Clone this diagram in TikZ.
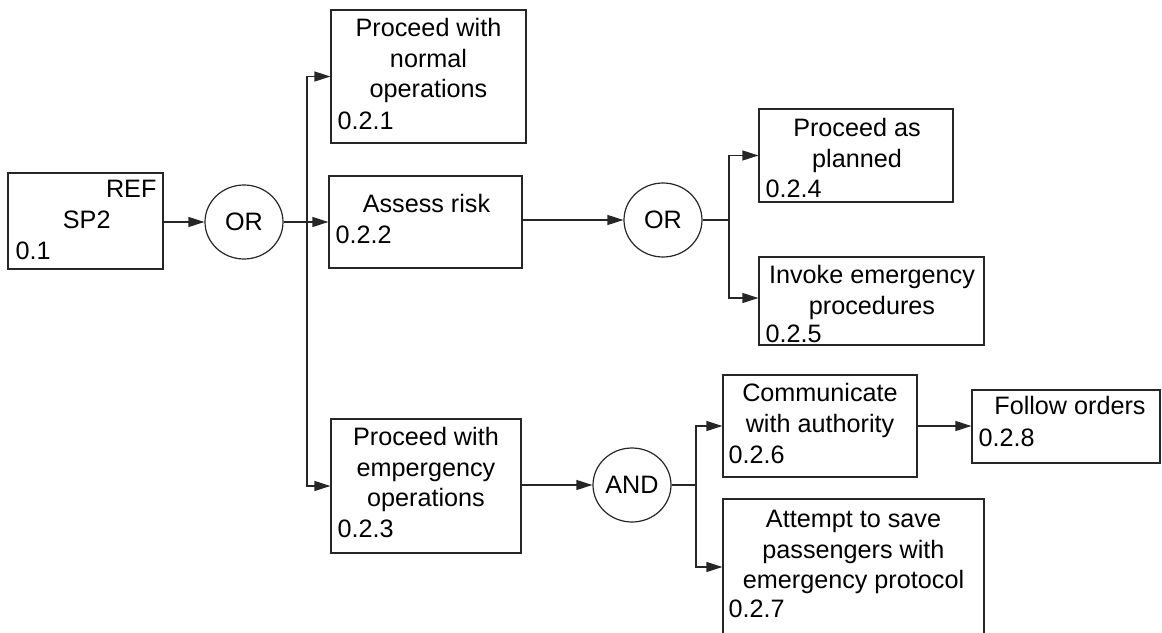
\documentclass[tikz,border=0pt]{standalone}
\usepackage{fontspec}
\setmainfont{Liberation Sans}
\usetikzlibrary{arrows.meta,shapes.geometric}
\newcommand\diagfont{\fontsize{25.2}{30.5}\selectfont}
\begin{document}
\begin{tikzpicture}[x=1pt,y=-1pt,line width=1.2pt,
  gbox/.style={draw=black!85, rectangle, inner sep=0pt},
  gate/.style={draw=black!85, ellipse, minimum width=78pt, minimum height=74pt, inner sep=0pt, font=\diagfont},
  gtext/.style={anchor=north, align=center, inner sep=0pt, font=\diagfont},
  gnum/.style={anchor=base west, inner sep=0pt, font=\diagfont},
  wire/.style={draw=black!85},
  arr/.style={wire, -{Triangle[length=16pt,width=10pt]}},
]
\useasboundingbox (0,0) rectangle (1162,632);
\clip (0,0) rectangle (1162,632);

% root box
\node[gbox, minimum width=155pt, minimum height=96pt] (b01) at (85.5,221) {};
\node[anchor=base east, inner sep=0pt, font=\diagfont] (t01a) at (157,197) {REF};
\node[anchor=base, inner sep=0pt, font=\diagfont] (t01b) at (86.7,228) {SP2};
\node[gnum] (n01) at (15,259) {0.1};

% first OR gate and its branches
\node[gate] (or1) at (244,222) {OR};
\coordinate (j1) at (307,222);

\node[gbox, minimum width=195pt, minimum height=133pt] (b21) at (428.5,76.5) {};
\node[gtext] (t21) at (428.5,14.65) {\strut Proceed with\\normal\\operations};
\node[gnum] (n21) at (337,129) {0.2.1};

\node[gbox, minimum width=193pt, minimum height=92pt] (b22) at (425.5,222) {};
\node[gtext] (t22) at (426.5,190.65) {\strut Assess risk};
\node[gnum] (n22) at (335,243) {0.2.2};

\node[gbox, minimum width=190pt, minimum height=134pt] (b23) at (426,486) {};
\node[gtext] (t23) at (426,423.65) {\strut Proceed with\\empergency\\operations};
\node[gnum] (n23) at (337,537) {0.2.3};

% second OR gate
\node[gate] (or2) at (663,220) {OR};
\coordinate (j2) at (729,220);

\node[gbox, minimum width=194pt, minimum height=93pt] (b24) at (856,155.5) {};
\node[gtext] (t24) at (857,114.65) {\strut Proceed as\\planned};
\node[gnum] (n24) at (765,197) {0.2.4};

\node[gbox, minimum width=225pt, minimum height=88pt] (b25) at (871.5,301) {};
\node[gtext] (t25) at (872,261.65) {\strut Invoke emergency\\procedures};
\node[gnum] (n25) at (765,342) {0.2.5};

% AND gate
\node[gate] (and) at (632,485) {AND};
\coordinate (j3) at (696,485);

\node[gbox, minimum width=194pt, minimum height=102pt] (b26) at (820,426) {};
\node[gtext] (t26) at (820,379.65) {\strut Communicate\\with authority};
\node[gnum] (n26) at (728,463) {0.2.6};

\node[gbox, minimum width=261pt, minimum height=136pt] (b27) at (853.5,567) {};
\node[gtext] (t27) at (853.5,505.65) {\strut Attempt to save\\passengers with\\emergency protocol};
\node[gnum] (n27) at (728,617) {0.2.7};

\node[gbox, minimum width=188pt, minimum height=73pt] (b28) at (1066,426.5) {};
\node[gtext] (t28) at (1070,392.65) {\strut Follow orders};
\node[gnum] (n28) at (978,446) {0.2.8};

% connectors
\draw[arr] (b01.east |- or1.west) -- (or1.west);
\draw[wire] (or1.east) -- (j1);
\draw[arr] (j1) |- (b21.west);
\draw[arr] (j1) -- (b22.west);
\draw[arr] (j1) |- (b23.west);

\draw[arr] (b22.east |- or2.west) -- (or2.west);
\draw[wire] (or2.east) -- (j2);
\draw[arr] (j2) |- (b24.west);
\draw[arr] (j2) |- ([yshift=3pt]b25.west);

\draw[arr] (b23.east |- and.west) -- (and.west);
\draw[wire] (and.east) -- (j3);
\draw[arr] (j3) |- (b26.west);
\draw[arr] (j3) |- (b27.west);

\draw[arr] (b26.east) -- (b28.west |- b26.east);
\end{tikzpicture}
\end{document}
